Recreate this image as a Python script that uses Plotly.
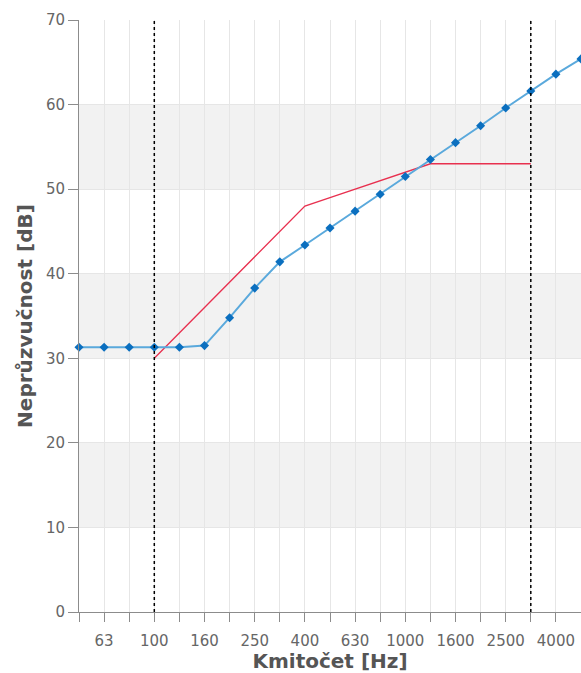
import plotly.graph_objects as go

freqs = ["50", "63", "80", "100", "125", "160", "200", "250", "315", "400", "500",
         "630", "800", "1000", "1250", "1600", "2000", "2500", "3150", "4000", "5000"]
measured = [31.3, 31.3, 31.3, 31.3, 31.3, 31.5, 34.8, 38.3, 41.4, 43.4, 45.4,
            47.4, 49.4, 51.5, 53.5, 55.5, 57.5, 59.6, 61.6, 63.6, 65.4]
ref_freqs = ["100", "125", "160", "200", "250", "315", "400", "500", "630", "800",
             "1000", "1250", "1600", "2000", "2500", "3150"]
reference = [30, 33, 36, 39, 42, 45, 48, 49, 50, 51, 52, 53, 53, 53, 53, 53]
tick_labels = ["", "63", "", "100", "", "160", "", "250", "", "400", "",
               "630", "", "1000", "", "1600", "", "2500", "", "4000", ""]

idx = {f: i for i, f in enumerate(freqs)}
x_meas = [idx[f] for f in freqs]
x_ref = [idx[f] for f in ref_freqs]

fig = go.Figure()
fig.add_trace(go.Scatter(
    x=x_ref, y=reference, mode="lines",
    line=dict(color="#e8304f", width=1.3), showlegend=False, hoverinfo="skip"))
fig.add_trace(go.Scatter(
    x=x_meas, y=measured, mode="lines+markers",
    line=dict(color="#5aa9dc", width=2),
    marker=dict(symbol="diamond", size=7, color="#0b6fbf"),
    showlegend=False, cliponaxis=False))

# alternate bands
for y0 in (10, 30, 50):
    fig.add_shape(type="rect", xref="paper", yref="y", x0=0, x1=1, y0=y0, y1=y0 + 10,
                  fillcolor="#f2f2f2", line=dict(width=0), layer="below")
# dotted vertical limits
for f in ("100", "3150"):
    fig.add_shape(type="line", xref="x", yref="y", x0=idx[f], x1=idx[f], y0=0, y1=70,
                  line=dict(color="black", width=1.5, dash="dot"), layer="above")

font_family = "DejaVu Sans, Verdana, sans-serif"
fig.update_layout(
    width=581, height=673,
    margin=dict(l=79, r=0, t=20, b=61, autoexpand=False),
    plot_bgcolor="white", paper_bgcolor="white",
    font=dict(family=font_family, color="#666666"),
    xaxis=dict(
        range=[0, 20], tickmode="array", tickvals=x_meas, ticktext=tick_labels,
        automargin=False,
        showgrid=True, gridcolor="#e6e6e6", gridwidth=1,
        showline=True, linecolor="#8c8c8c", linewidth=1,
        ticks="outside", ticklen=9, tickcolor="#8c8c8c",
        ticklabelstandoff=6,
        tickfont=dict(size=15, color="#666666"),
        title=dict(text="Kmitočet [Hz]", font=dict(size=20, color="#555555", weight="bold"), standoff=13),
        zeroline=False),
    yaxis=dict(
        range=[0, 70], tickmode="array", tickvals=list(range(0, 71, 10)),
        automargin=False,
        showgrid=True, gridcolor="#e6e6e6", gridwidth=1,
        showline=True, linecolor="#8c8c8c", linewidth=1,
        ticks="outside", ticklen=10, tickcolor="#8c8c8c",
        tickfont=dict(size=15, color="#666666"),
        title=dict(text="Neprůzvučnost [dB]", font=dict(size=20, color="#555555", weight="bold"), standoff=7),
        zeroline=False),
)
fig.write_html(
    "out.html",
    config={"displayModeBar": False},
    post_script="document.body.style.margin='0';document.documentElement.style.overflow='hidden';",
)
